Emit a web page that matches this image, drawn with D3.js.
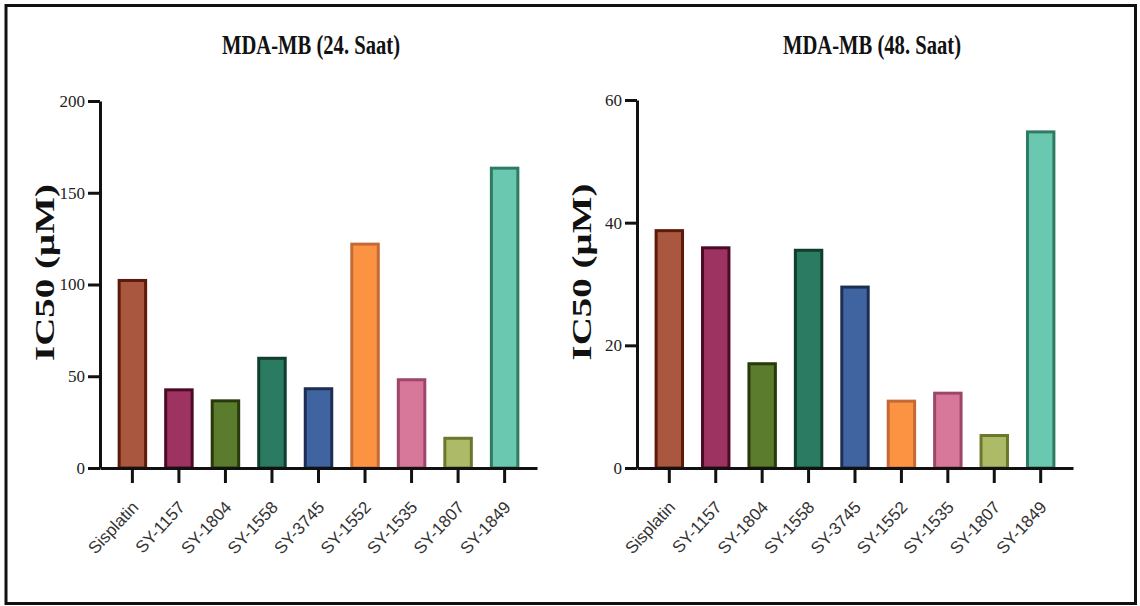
<!DOCTYPE html>
<html>
<head>
<meta charset="utf-8">
<script src="https://cdn.jsdelivr.net/npm/d3@7"></script>
<style>
  body { margin: 0; background: #fff; }
  .tickLabel { font-family: "Liberation Serif", "Times New Roman", serif; font-size: 17px; fill: #222; }
  .catLabel { font-family: "Liberation Sans", Arial, sans-serif; font-size: 17px; fill: #333; }
  .title { font-family: "Liberation Serif", "Times New Roman", serif; font-weight: bold; font-size: 28px; fill: #111; }
  .axisTitle { font-family: "Liberation Serif", "Times New Roman", serif; font-weight: bold; font-size: 28px; fill: #111; }
</style>
</head>
<body>
<div id="chart"></div>
<script>
// compounds on the x axis
var compounds = ["Sisplatin", "SY-1157", "SY-1804", "SY-1558", "SY-3745", "SY-1552", "SY-1535", "SY-1807", "SY-1849"];

// IC50 (uM)
var ic50_24h = [102.2, 42.6, 36.6, 59.8, 43.2, 122.0, 48.1, 16.2, 163.4];
var ic50_48h = [38.7, 35.9, 17.0, 35.5, 29.5, 10.9, 12.2, 5.3, 54.8];

var ticks24 = [0, 50, 100, 150, 200];
var ticks48 = [0, 20, 40, 60];

var fills = ["#a9573e", "#9c3360", "#5b7c2d", "#2a7b61", "#3f64a0", "#fb9342", "#d7789b", "#adbb68", "#6bc8b0"];
var strokes = ["#5c1a0a", "#4d0a26", "#27390d", "#0f3e2c", "#1c2f52", "#c36a36", "#9e4669", "#68782c", "#2f7a63"];

var svgWidth = 1140;
var svgHeight = 606;

var svg = d3.select("#chart")
  .append("svg")
  .attr("width", svgWidth)
  .attr("height", svgHeight);

// outer frame
svg.append("rect")
  .attr("x", 6)
  .attr("y", 5.5)
  .attr("width", 1129.5)
  .attr("height", 598)
  .attr("fill", "none")
  .attr("stroke", "#111")
  .attr("stroke-width", 3);

function drawPanel(opts) {
  var xScale = d3.scaleBand()
    .domain(compounds)
    .range([opts.left, opts.right])
    .paddingInner(0.366)
    .paddingOuter(0.379);

  var yScale = d3.scaleLinear()
    .domain([0, opts.max])
    .range([opts.bottom, opts.top]);

  var g = svg.append("g");

  g.selectAll(".bar")
    .data(opts.values)
    .enter()
    .append("rect")
    .attr("class", "bar")
    .attr("x", (d, i) => xScale(compounds[i]) + 1.5)
    .attr("width", xScale.bandwidth() - 3)
    .attr("y", d => yScale(d))
    .attr("height", d => opts.bottom - yScale(d))
    .attr("fill", (d, i) => fills[i])
    .attr("stroke", (d, i) => strokes[i])
    .attr("stroke-width", 3);

  var yAxis = d3.axisLeft(yScale)
    .tickValues(opts.ticks)
    .tickSize(12)
    .tickSizeOuter(0)
    .tickPadding(3);

  var yG = g.append("g")
    .attr("transform", `translate(${opts.left},0)`)
    .call(yAxis);
  yG.selectAll("path, line").attr("stroke", "#111").attr("stroke-width", 3);
  yG.selectAll("text").attr("class", "tickLabel").attr("font-size", null).attr("font-family", null);

  var xAxis = d3.axisBottom(xScale)
    .tickSize(15)
    .tickSizeOuter(0)
    .tickFormat("");

  var xG = g.append("g")
    .attr("transform", `translate(0,${opts.bottom})`)
    .call(xAxis);
  xG.selectAll("path, line").attr("stroke", "#111").attr("stroke-width", 3);

  g.selectAll(".catLabel")
    .data(compounds)
    .enter()
    .append("text")
    .attr("class", "catLabel")
    .attr("text-anchor", "end")
    .attr("transform", d => `translate(${xScale(d) + xScale.bandwidth() / 2 + 7},${opts.bottom + 40}) rotate(-47)`)
    .text(d => d);

  g.append("text")
    .attr("class", "title")
    .attr("x", opts.titleX)
    .attr("y", 54)
    .attr("text-anchor", "middle")
    .attr("textLength", 178)
    .attr("lengthAdjust", "spacingAndGlyphs")
    .text(opts.title);

  g.append("text")
    .attr("class", "axisTitle")
    .attr("transform", `translate(${opts.left - 46},${(opts.top + opts.bottom) / 2 - 12}) rotate(-90)`)
    .attr("text-anchor", "middle")
    .attr("textLength", 177)
    .attr("lengthAdjust", "spacingAndGlyphs")
    .text("IC50 (µM)");
}

drawPanel({ values: ic50_24h, ticks: ticks24, max: 200, left: 100, right: 537, top: 101, bottom: 468, title: "MDA-MB (24. Saat)", titleX: 311 });
drawPanel({ values: ic50_48h, ticks: ticks48, max: 60, left: 637, right: 1073, top: 100, bottom: 468, title: "MDA-MB (48. Saat)", titleX: 872 });
</script>
</body>
</html>
